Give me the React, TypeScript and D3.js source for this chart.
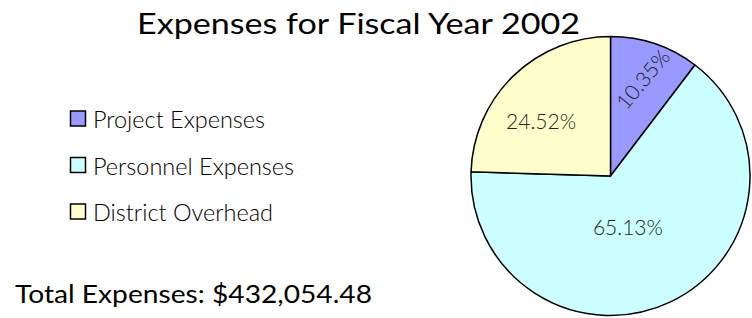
import React, { useEffect, useRef } from 'react';
import * as d3 from 'd3';

const categories = ['Project Expenses', 'Personnel Expenses', 'District Overhead'];
const shares = [10.35, 65.13, 24.52];
const colors = ['#9999ff', '#ccffff', '#ffffcc'];
const title = 'Expenses for Fiscal Year 2002';
const totalLabel = 'Total Expenses: $432,054.48';

const App = () => {
  const ref = useRef<SVGSVGElement>(null);

  useEffect(() => {
    const width = 752;
    const height = 318;
    const font = 'Lato, "Open Sans", sans-serif';

    const svg = d3.select(ref.current)
      .attr('width', width)
      .attr('height', height);
    svg.selectAll('*').remove();

    svg.append('rect').attr('width', width).attr('height', height).attr('fill', '#fff');

    svg.append('text')
      .attr('x', 137)
      .attr('y', 34)
      .attr('font-family', font)
      .attr('font-size', 29)
      .attr('textLength', 443)
      .attr('lengthAdjust', 'spacingAndGlyphs')
      .attr('fill', '#000')
      .text(title);

    // pie
    const cx = 610.5;
    const cy = 176;
    const r = 139.5;
    const pie = d3.pie<number>().sort(null).value(d => d);
    const arcs = pie(shares);
    const arc = d3.arc<d3.PieArcDatum<number>>().innerRadius(0).outerRadius(r);

    const g = svg.append('g').attr('transform', `translate(${cx},${cy})`);
    g.selectAll('path.slice')
      .data(arcs)
      .enter()
      .append('path')
      .attr('class', 'slice')
      .attr('d', arc)
      .attr('fill', (d, i) => colors[i])
      .attr('stroke', '#000')
      .attr('stroke-width', 1.5)
      .attr('stroke-linejoin', 'round');

    // label placement, excel-ish
    const labelRadius = [0.73, 0.39, 0.63];
    const labelShift = [0, 0.12, -0.14];
    const labelRotate = [-50, 0, 0];
    arcs.forEach((d, i) => {
      const mid = (d.startAngle + d.endAngle) / 2 + labelShift[i];
      const lr = r * labelRadius[i];
      const x = Math.sin(mid) * lr;
      const y = -Math.cos(mid) * lr;
      g.append('text')
        .attr('transform', `translate(${x},${y}) rotate(${labelRotate[i]})`)
        .attr('text-anchor', 'middle')
        .attr('dy', '0.35em')
        .attr('font-family', font)
        .attr('font-weight', 300)
        .attr('font-size', 21)
        .attr('fill', '#222')
        .text(`${shares[i].toFixed(2)}%`);
    });

    // legend
    const legend = svg.append('g');
    const ly = d3.scalePoint<string>().domain(categories).range([119, 212]);
    categories.forEach((c, i) => {
      legend.append('rect')
        .attr('x', 70.5)
        .attr('y', (ly(c) as number) - 8)
        .attr('width', 15)
        .attr('height', 15)
        .attr('fill', colors[i])
        .attr('stroke', '#000')
        .attr('stroke-width', 1.5);
      legend.append('text')
        .attr('x', 93)
        .attr('y', (ly(c) as number) + 9)
        .attr('font-family', font)
        .attr('font-weight', 300)
        .attr('font-size', 23.5)
        .attr('fill', '#000')
        .text(c);
    });

    svg.append('text')
      .attr('x', 15)
      .attr('y', 303)
      .attr('font-family', font)
      .attr('font-size', 25)
      .attr('textLength', 357)
      .attr('lengthAdjust', 'spacingAndGlyphs')
      .attr('fill', '#000')
      .text(totalLabel);
  }, []);

  return (
    <svg ref={ref} style={{ position: 'absolute', left: 0, top: 0 }}></svg>
  );
};

export default App;
